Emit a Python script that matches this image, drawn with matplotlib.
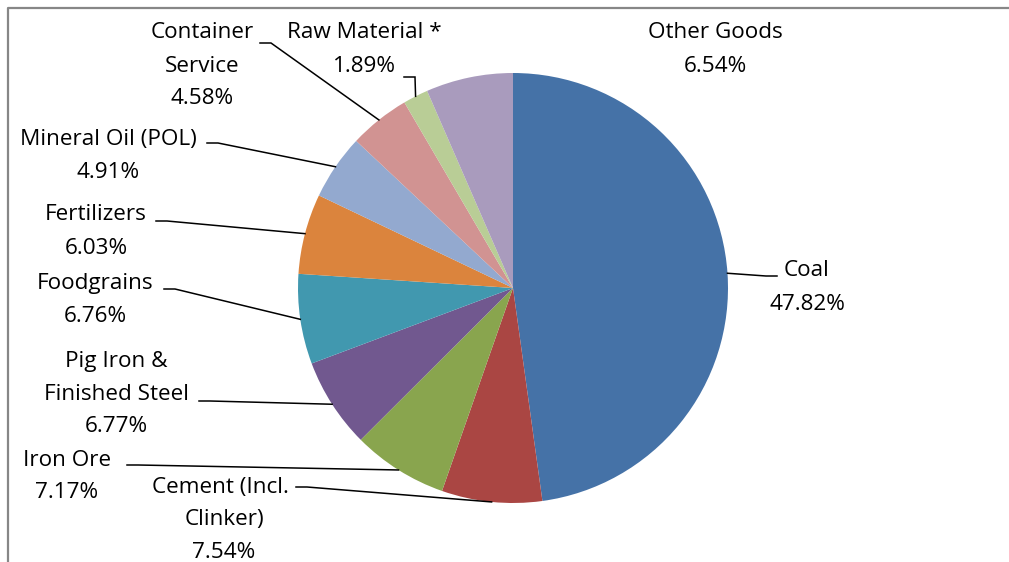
import numpy as np
import matplotlib
matplotlib.use('Agg')
import matplotlib.pyplot as plt

### Data
names = ['Coal', 'Cement (Incl. Clinker)', 'Iron Ore', 'Pig Iron & Finished Steel',
         'Foodgrains', 'Fertilizers', 'Mineral Oil (POL)', 'Container Service',
         'Raw Material *', 'Other Goods']
values = [47.82, 7.54, 7.17, 6.77, 6.76, 6.03, 4.91, 4.58, 1.89, 6.54]
colors = ['#4572A7', '#AA4643', '#89A54E', '#71588F', '#4198AF',
          '#DB843D', '#93A9CF', '#D19392', '#B9CD96', '#A99BBD']
label_lines = [['Coal'], ['Cement (Incl.', 'Clinker)'], ['Iron Ore'],
               ['Pig Iron &', 'Finished Steel'], ['Foodgrains'], ['Fertilizers'],
               ['Mineral Oil (POL)'], ['Container', 'Service'], ['Raw Material *'],
               ['Other Goods']]

### Layout (pixels, y from top)
W, H = 1009, 562
cx, cy, R = 513, 288, 215
text_pos = [(807, 271), (224, 487), (67, 460), (116, 361), (95, 283),
            (96, 215), (108, 139), (202, 33), (364, 33), (715, 33)]
leader_start = [(777, 276), (296, 487), (127, 465), (199, 401), (164, 289),
                (156, 221), (207, 143), (260, 43), (404, 77), None]
pitch = 33

plt.rcParams['font.family'] = ['Open Sans', 'DejaVu Sans']

fig = plt.figure(figsize=(W / 100, H / 100), dpi=100)
ax = fig.add_axes([0, 0, 1, 1])

def Y(y):
    return H - y

wedges, _ = ax.pie(values, colors=colors, startangle=90, counterclock=False,
                   radius=R, center=(cx, Y(cy)), wedgeprops=dict(linewidth=0))

for i, w in enumerate(wedges):
    lines = label_lines[i] + ['%.2f%%' % values[i]]
    tx, ty = text_pos[i]
    for k, s in enumerate(lines):
        # first line of cement label sits a bit left, like the original
        dx = -4 if (i == 1 and k == 0) else 0
        ax.text(tx + dx, Y(ty + k * pitch), s, ha='center', va='center',
                fontsize=16.2, color='black')
    if leader_start[i] is None:
        continue
    mid = np.deg2rad((w.theta1 + w.theta2) / 2)
    ex = cx + R * np.cos(mid)
    ey = Y(cy) + R * np.sin(mid)
    sx, sy = leader_start[i]
    bx = sx + (11 if sx < cx else -11)
    ax.plot([sx, bx, ex], [Y(sy), Y(sy), ey], color='black', lw=1.1,
            solid_joinstyle='miter')

### frame of the chart area (cropped at right and bottom)
ax.plot([8, 8, W], [0, Y(8), Y(8)], color='#878787', lw=1.6)

ax.set_xlim(0, W)
ax.set_ylim(0, H)
ax.set_aspect('equal')
ax.axis('off')

fig.savefig('out.png', dpi=100, facecolor='white')
